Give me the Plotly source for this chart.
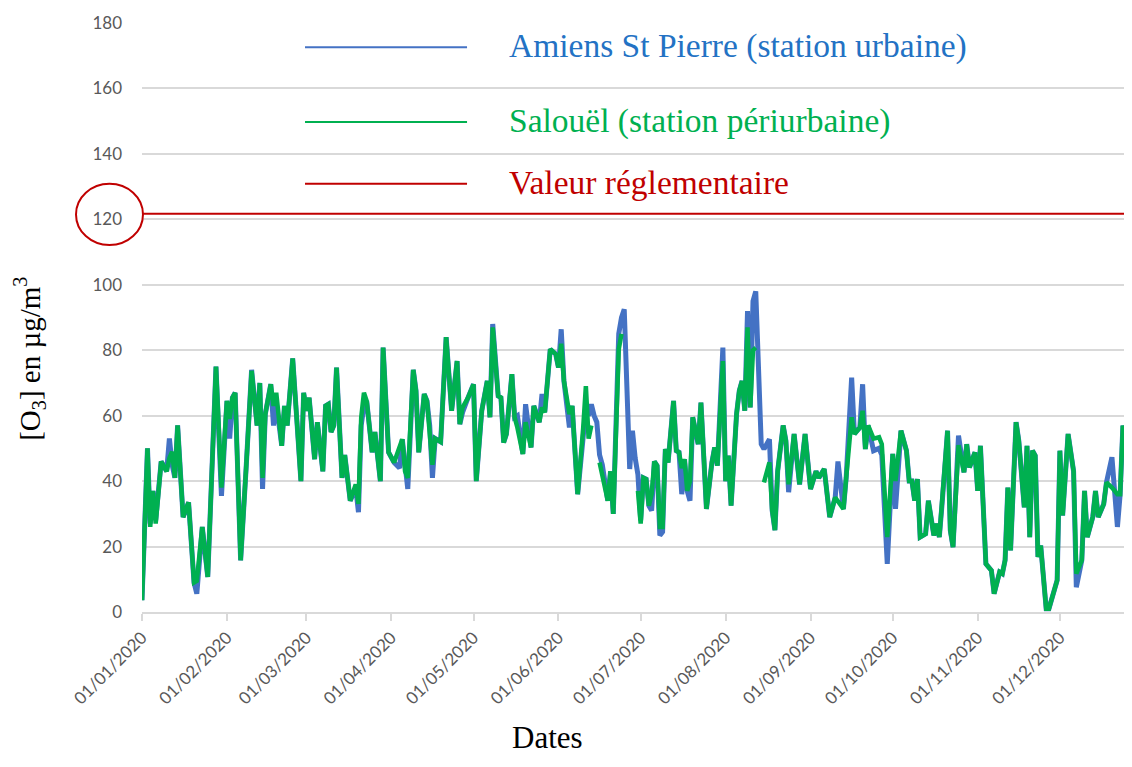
import pandas as pd
import plotly.graph_objects as go

# jour de l'année (0 = 01/01/2020) et concentrations en O3 (µg/m3)
days = [0, 2, 3, 4, 5, 7, 9, 10, 11, 12, 13, 15, 17, 19, 20, 22, 24, 27, 29, 31,
        32, 33, 34, 36, 38, 40, 42, 43, 44, 45, 47, 48, 49, 51, 52, 53, 55, 58, 59, 60,
        61, 63, 64, 65, 66, 67, 68, 69, 70, 71, 73, 74, 75, 76, 78, 79, 80, 81, 82, 84,
        85, 87, 88, 90, 92, 94, 95, 96, 97, 99, 100, 101, 103, 104, 105, 106, 107, 109, 111, 113,
        115, 116, 117, 119, 121, 122, 124, 126, 127, 128, 130, 131, 132, 133, 135, 136, 137, 139, 140, 142,
        143, 145, 146, 147, 149, 151, 152, 153, 154, 156, 157, 159, 161, 162, 163, 164, 165, 166, 167, 168,
        170, 171, 172, 174, 175, 176, 178, 179, 180, 181, 182, 183, 184, 185, 186, 187, 188, 189, 190, 191,
        192, 194, 195, 196, 197, 198, 199, 200, 201, 203, 204, 205, 206, 208, 209, 210, 212, 213, 214, 215,
        217, 218, 219, 220, 221, 222, 223, 224, 226, 227, 229, 230, 231, 232, 234, 235, 236, 238, 240, 242,
        243, 244, 246, 247, 249, 251, 253, 254, 256, 257, 259, 260, 262, 263, 264, 265, 267, 269, 270, 272,
        274, 275, 277, 279, 280, 281, 282, 283, 284, 286, 287, 289, 290, 291, 292, 294, 295, 296, 298, 300,
        301, 302, 304, 305, 306, 308, 310, 311, 313, 314, 315, 316, 317, 319, 320, 322, 323, 324, 325, 326,
        327, 328, 330, 331, 334, 335, 336, 338, 340, 341, 343, 344, 345, 347, 348, 349, 351, 352, 354, 356,
        357, 358, 360, 361]

amiens = [3.6, 50, 27, 37, 28, 46, 43, 53, 45, 41, 57, 29, 33.5, 9, 5.6, 26, 10.7, 75, 35.5, 64.5,
          53, 65.5, 67, 15.8, 44, 74, 57, 70, 37.6, 60.5, 69.6, 57, 64, 50.8, 63, 57, 77.5, 40, 67, 61.5,
          65.5, 46.7, 58, 49, 43, 63, 63.5, 55, 57, 74.7, 41, 48, 40, 34, 38, 30.5, 57, 63, 64.5, 48.8,
          55, 40, 80.8, 48.8, 45.7, 44, 52.8, 43, 37.6, 74, 67.6, 48.8, 66.6, 64.5, 57, 41, 53, 52, 84, 61.5,
          76.7, 57.4, 61, 65.5, 69.6, 40, 61.5, 70.6, 59.5, 88, 66, 65.5, 51.8, 54.4, 72.7, 59.5, 60, 48.3, 63.5, 50.3,
          63, 58, 66.6, 61, 80.3, 78.8, 74.7, 86.4, 70.6, 56.4, 63, 36, 56, 62, 60, 63.5, 60, 58, 48, 45,
          34, 43, 30, 85, 90, 92.5, 43.7, 55.4, 47, 42, 28, 41, 40.6, 32.5, 31, 46, 44.7, 23.4, 24.5, 49.8,
          45.7, 64.5, 49.3, 48.8, 36, 46.7, 37, 34, 59.5, 51.3, 64, 48.3, 31.5, 45.7, 50.3, 44.7, 80.8, 40, 47.8, 32.5,
          60.5, 67.6, 70.6, 61.5, 92, 62.5, 95, 98, 51.3, 49.8, 52.8, 31, 25, 43, 57, 52.3, 36.6, 54.4, 39, 54.4,
          44.2, 37.6, 43, 41, 43.7, 29, 35, 46, 31.5, 41, 71.6, 54.4, 56.4, 69.6, 49.8, 57, 49.3, 50, 48, 14.7,
          48.3, 31.5, 55.4, 49.3, 40, 40, 34, 40.6, 22.9, 23.9, 34, 23.4, 27, 22.9, 33, 55.4, 25, 19.8, 53.9, 42.7,
          51.3, 44.2, 48.8, 37, 50.8, 14.7, 12.7, 5.6, 12.2, 11.7, 15.8, 38, 18.8, 58, 52.3, 32, 50.8, 22.9, 49.3, 47.8,
          16.8, 20.3, 1, 1, 9.7, 49.3, 29.5, 54.4, 43, 7.6, 15.8, 37, 22.9, 29, 37, 29, 33, 39.6, 47.3, 26,
          36, 57, 41, 62.5]

salouel = [3.6, 50, 26, 37, 27, 46, 43, 47, 49, 41, 57, 29, 33.5, 9, 9.5, 26, 10.7, 75, 38, 64.5,
           59, 65.5, 67, 15.8, 44, 73.7, 57, 70, 41, 60.5, 69.6, 63, 67, 50.8, 63, 57, 77.5, 40, 67, 61.5,
           65.5, 46.7, 58, 49, 43, 63, 63.5, 55, 57, 74.7, 41, 48, 42, 34, 39, 33, 59.5, 67, 64.5, 48.8,
           55, 40, 80.8, 48.8, 45.7, 50.8, 52.8, 43, 41, 74, 67.6, 48.8, 66.6, 64.5, 53, 45, 53, 52, 84, 61.5,
           76.7, 57.4, 62.5, 65.5, 69.6, 40, 61.5, 70.6, 59.5, 87, 66, 65.5, 51.8, 54.4, 72.7, 59.5, 56.4, 48.3, 58, 50.3,
           63, 58, 62.5, 61, 80.3, 78.8, 74.7, 82, 70.6, 60.5, 63, 36, 56, 69, 53, 57, None, None, 45.7, 42,
           34, 43, 30, 80.3, 85, None, None, None, None, 37, 27, 41, 40.6, 32.5, 36, 46, 44.7, 26, 26, 49.8,
           45.7, 64.5, 49.3, 48.8, 44, 46.7, 37, 40, 59.5, 51.3, 64, 48.3, 31.5, 45.7, 50.3, 44.7, 76.7, 40, 47.8, 32.5,
           60.5, 67.6, 70.6, 61.5, 87, 62.5, 80, 80.8, None, 39.6, 45.7, 31, 25, 43, 57, 52.3, 39, 54.4, 39, 54.4,
           44.2, 37.6, 43, 41, 43.7, 29, 35, 34, 31.5, 41, 59.5, 54.4, 56.4, 61.5, 49.8, 57, 53, 53.4, 51.3, 22.9,
           48.3, 40, 55.4, 49.3, 40, 40, 34, 40.6, 22.9, 23.9, 34, 23.4, 27, 22.9, 33, 55.4, 25, 19.8, 51, 42.7,
           51.3, 44.2, 48.8, 37, 50.8, 14.7, 12.7, 5.6, 12.2, 11.7, 15.8, 38, 18.8, 58, 52.3, 32, 50.8, 22.9, 49.3, 47.8,
           16.8, 20.3, 1, 1, 9.7, 49.3, 29.5, 54.4, 43, 11.7, 15.8, 37, 22.9, 29, 37, 29, 33, 39.6, 38, 36,
           36, 57, 41, 62.5]

valeur_reglementaire = 121.7
y_ticks = [0, 20, 40, 60, 80, 100, 120, 140, 160, 180]

start = pd.Timestamp("2020-01-01")
dates = start + pd.to_timedelta(days, unit="D")

BLUE = "#4472C4"
GREEN = "#00B050"
RED = "#C00000"
GRID = "#D9D9D9"
SERIF = "Liberation Serif, Times New Roman, serif"
TICKFONT = dict(family="Lato, sans-serif", size=17, color="#595959")

fig = go.Figure()

fig.add_trace(go.Scatter(x=dates, y=amiens, mode="lines", connectgaps=False,
                         line=dict(color=BLUE, width=5), name="Amiens St Pierre"))
fig.add_trace(go.Scatter(x=dates, y=salouel, mode="lines", connectgaps=False,
                         line=dict(color=GREEN, width=4.5), name="Salouël"))

# valeur réglementaire
fig.add_hline(y=valeur_reglementaire, line=dict(color=RED, width=2))

# cercle autour de 120
fig.add_shape(type="circle", xref="paper", yref="paper",
              x0=-0.0672, x1=0.001, y0=0.623, y1=0.727,
              line=dict(color=RED, width=2))

# légende dessinée à la main
legend = [("Amiens St Pierre (station urbaine)", "#2372C4", BLUE, 0.959),
          ("Salouël (station périurbaine)", GREEN, GREEN, 0.832),
          ("Valeur réglementaire", RED, RED, 0.727)]
for text, tcol, lcol, yy in legend:
    fig.add_shape(type="line", xref="paper", yref="paper",
                  x0=0.166, x1=0.331, y0=yy, y1=yy,
                  line=dict(color=lcol, width=2))
    fig.add_annotation(text=text, xref="paper", yref="paper", x=0.372, y=yy + 0.002,
                       xanchor="left", yanchor="middle", showarrow=False,
                       font=dict(family=SERIF, size=33.5, color=tcol))

# titres d'axes
fig.add_annotation(text="[O<sub>3</sub>] en µg/m<sup>3</sup>", xref="paper", yref="paper",
                   x=-0.115, y=0.43, xanchor="center", yanchor="middle",
                   textangle=-90, showarrow=False,
                   font=dict(family=SERIF, size=29, color="black"))
fig.add_annotation(text="Dates", xref="paper", yref="paper", x=0.413, y=-0.213,
                   xanchor="center", yanchor="middle", showarrow=False,
                   font=dict(family=SERIF, size=31, color="black"))

# 2.74 px par jour sur 982 px de tracé
fig.update_xaxes(range=[start, start + pd.Timedelta(days=358.4)], automargin=False,
                 tick0="2020-01-01", dtick="M1", tickformat="%d/%m/%Y", tickangle=-45,
                 showgrid=False, showline=True, linecolor=GRID, linewidth=2,
                 ticks="outside", ticklen=7, tickcolor=GRID, tickwidth=2,
                 tickfont=TICKFONT)
fig.update_yaxes(range=[0, 180], tickvals=y_ticks, automargin=False,
                 showgrid=True, gridcolor=GRID, gridwidth=2,
                 zeroline=False, showline=False, ticklabelstandoff=19,
                 tickfont=TICKFONT)

# la page ajoute 8 px de marge au corps : on compense sans déborder
fig.update_layout(width=1116, height=751, showlegend=False,
                  margin=dict(l=134, r=0, t=15, b=147),
                  plot_bgcolor="white", paper_bgcolor="white")

fig.write_html("out.html")
